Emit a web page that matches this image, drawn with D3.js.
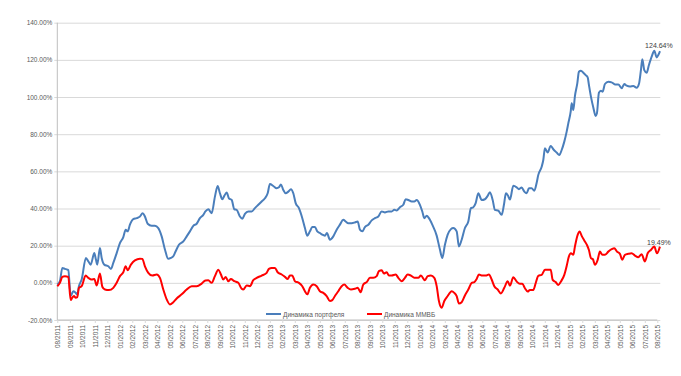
<!DOCTYPE html>
<html>
<head>
<meta charset="utf-8">
<script src="https://cdn.jsdelivr.net/npm/d3@7"></script>
<style>
  body { margin: 0; background: #fff; }
  svg { display: block; font-family: "Liberation Sans", Arial, sans-serif; }
  .axis text { fill: #595959; font-size: 6.5px; }
  .legend text { fill: #595959; font-size: 6.5px; }
</style>
</head>
<body>
<svg id="chart" width="681" height="376"></svg>
<script>
// month labels, one per gridline
var months = ["08/2011","09/2011","10/2011","11/2011","12/2011","01/2012","02/2012","03/2012","04/2012","05/2012",
  "06/2012","07/2012","08/2012","09/2012","10/2012","11/2012","12/2012","01/2013","02/2013","03/2013",
  "04/2013","05/2013","06/2013","07/2013","08/2013","09/2013","10/2013","11/2013","12/2013","01/2014",
  "02/2014","03/2014","04/2014","05/2014","06/2014","07/2014","08/2014","09/2014","10/2014","11/2014",
  "12/2014","01/2015","02/2015","03/2015","04/2015","05/2015","06/2015","07/2015","08/2015"];

var yTicks = [-20, 0, 20, 40, 60, 80, 100, 120, 140];

// [months since 08/2011, %]
var portfolio = [
  [0,-0.9],[0.21,0.9],[0.4,8.0],[0.61,7.5],[0.8,7.1],[0.88,6.8],[1.07,-7.1],[1.28,-4.5],[1.47,-5.4],[1.6,-6.2],
  [1.73,-1.8],[1.95,1.8],[2.29,13.4],[2.48,11.6],[2.67,9.8],[2.96,16.0],[3.09,12.5],[3.2,9.8],[3.41,18.8],[3.55,13.4],
  [3.76,9.8],[4.08,8.9],[4.29,7.5],[4.48,10.7],[4.75,16.0],[5.01,21.4],[5.28,24.6],[5.47,28.6],[5.63,27.7],[5.81,31.3],
  [6.08,34.3],[6.35,34.8],[6.61,35.7],[6.83,37.5],[7.01,35.7],[7.23,31.8],[7.55,30.7],[7.81,30.7],[8.08,29.5],[8.35,25.0],
  [8.61,17.9],[8.88,12.9],[9.09,13.4],[9.28,14.3],[9.47,17.0],[9.73,20.5],[10.08,22.3],[10.35,25.0],[10.61,27.7],[10.88,30.7],
  [11.15,31.8],[11.41,34.8],[11.68,36.6],[11.85,38.4],[12.08,39.6],[12.35,37.5],[12.61,46.4],[12.83,52.1],[13.01,48.2],[13.2,45.0],
  [13.36,46.8],[13.55,48.6],[13.73,45.5],[13.95,44.6],[14.16,39.6],[14.35,39.3],[14.61,35.7],[14.8,34.5],[15.01,37.1],[15.28,38.4],
  [15.55,38.4],[15.81,40.2],[16.08,42.0],[16.35,43.8],[16.61,45.5],[16.83,48.2],[17.01,53.2],[17.28,52.1],[17.55,50.9],[17.73,51.4],
  [17.89,52.9],[18.08,50.0],[18.27,48.2],[18.48,49.1],[18.69,50.4],[18.88,48.2],[19.07,42.9],[19.33,40.2],[19.6,34.8],[19.81,29.5],
  [20.0,25.4],[20.21,27.7],[20.4,30.0],[20.61,30.0],[20.8,27.7],[21.01,26.8],[21.2,25.9],[21.41,25.4],[21.57,26.8],[21.81,23.2],
  [22.08,25.0],[22.35,28.6],[22.61,31.3],[22.88,33.9],[23.07,33.0],[23.28,32.1],[23.55,32.1],[23.81,32.5],[24.03,33.0],[24.21,28.6],
  [24.4,27.7],[24.61,30.0],[24.88,31.3],[25.15,33.6],[25.41,34.8],[25.68,35.7],[25.95,38.4],[26.21,37.9],[26.48,38.4],[26.75,38.4],
  [26.96,39.3],[27.15,38.9],[27.41,40.7],[27.68,42.0],[27.87,45.0],[28.08,44.6],[28.35,43.8],[28.56,43.8],[28.75,44.6],[29.01,42.0],
  [29.2,38.4],[29.36,34.8],[29.55,36.1],[29.73,34.8],[30.0,31.3],[30.35,25.4],[30.61,17.9],[30.8,13.4],[31.01,20.5],[31.23,25.9],
  [31.49,28.9],[31.68,29.5],[31.95,27.7],[32.13,19.6],[32.35,23.2],[32.61,29.5],[32.88,33.0],[33.09,40.2],[33.28,40.7],[33.47,42.9],
  [33.68,48.2],[33.95,44.6],[34.21,45.0],[34.43,46.8],[34.61,48.8],[34.83,44.6],[35.01,39.3],[35.28,38.8],[35.55,36.6],[35.73,42.0],
  [35.89,48.2],[36.05,47.0],[36.21,44.8],[36.48,52.2],[36.75,51.4],[36.93,50.4],[37.15,51.3],[37.36,49.1],[37.55,48.2],[37.73,50.9],
  [37.95,50.9],[38.16,49.6],[38.35,53.9],[38.48,58.1],[38.75,62.5],[38.88,66.1],[39.01,72.4],[39.23,70.1],[39.47,73.7],[39.68,71.9],
  [39.95,70.1],[40.16,68.8],[40.35,71.5],[40.56,76.0],[40.75,81.4],[40.88,85.8],[41.07,92.1],[41.15,96.6],[41.28,93.0],[41.41,100.5],
  [41.6,107.3],[41.73,113.6],[41.89,114.2],[42.08,113.1],[42.27,111.8],[42.43,110.6],[42.53,106.5],[42.69,100.2],[42.88,94.4],[43.07,89.8],
  [43.17,91.2],[43.33,102.3],[43.49,103.4],[43.63,102.9],[43.81,107.0],[44.08,108.2],[44.35,107.9],[44.61,106.8],[44.88,106.8],[45.15,104.7],
  [45.36,107.0],[45.55,106.1],[45.81,105.6],[46.08,105.9],[46.35,105.0],[46.53,107.0],[46.69,114.5],[46.8,120.3],[46.96,114.5],[47.15,113.1],
  [47.33,117.2],[47.55,121.7],[47.76,124.9],[47.95,121.3],[48.08,122.6],[48.21,124.64]
];

var micex = [
  [0,-1.8],[0.21,0.0],[0.4,3.2],[0.61,3.6],[0.88,3.2],[1.07,-9.3],[1.2,-8.0],[1.33,-7.1],[1.47,-8.0],[1.6,-7.7],
  [1.73,-2.7],[1.95,-1.8],[2.27,3.9],[2.48,2.7],[2.75,1.8],[2.96,2.1],[3.15,-1.4],[3.41,5.0],[3.6,-2.1],[3.81,-3.6],
  [4.13,-3.9],[4.48,-2.7],[4.75,0.0],[5.01,3.6],[5.28,5.7],[5.47,8.9],[5.63,6.8],[5.89,9.8],[6.21,12.1],[6.61,13.0],
  [6.8,12.9],[7.01,8.9],[7.28,5.4],[7.6,3.9],[7.95,4.5],[8.21,2.7],[8.48,-3.6],[8.75,-8.9],[9.01,-11.6],[9.28,-10.4],
  [9.55,-8.4],[9.95,-6.2],[10.35,-3.6],[10.75,-1.8],[11.15,-1.8],[11.55,-0.4],[11.85,1.3],[12.08,1.4],[12.35,0.0],[12.61,3.6],
  [12.88,7.1],[13.09,4.5],[13.28,1.8],[13.47,3.2],[13.68,0.9],[13.89,2.1],[14.16,0.9],[14.48,0.0],[14.75,-3.2],[14.88,-3.6],
  [15.15,-1.4],[15.41,-1.8],[15.68,1.4],[15.95,2.7],[16.35,3.9],[16.75,5.4],[16.93,7.5],[17.15,8.0],[17.41,8.0],[17.63,5.7],
  [17.95,4.5],[18.21,3.2],[18.43,2.1],[18.61,3.9],[18.8,3.9],[19.01,0.9],[19.33,0.0],[19.6,-1.8],[19.81,-4.5],[20.0,-6.2],
  [20.21,-2.7],[20.48,-0.9],[20.75,-1.8],[21.01,-4.5],[21.28,-5.4],[21.55,-7.1],[21.81,-9.8],[22.0,-9.3],[22.21,-7.1],[22.48,-4.5],
  [22.75,-1.8],[22.96,-0.9],[23.23,-2.7],[23.49,-3.6],[23.81,-3.2],[24.03,-2.7],[24.27,-5.0],[24.48,-0.9],[24.75,0.4],[25.01,2.7],
  [25.28,2.7],[25.55,3.6],[25.73,6.3],[25.95,6.8],[26.13,5.0],[26.35,5.7],[26.53,3.9],[26.75,3.9],[27.07,4.5],[27.28,2.7],
  [27.55,0.9],[27.81,2.7],[28.03,4.5],[28.29,3.9],[28.56,2.7],[28.88,2.7],[29.09,3.9],[29.41,1.4],[29.63,3.6],[29.89,3.9],
  [30.16,2.7],[30.35,-1.8],[30.53,-9.8],[30.75,-13.4],[30.96,-9.8],[31.23,-7.1],[31.55,-4.5],[31.76,-5.4],[31.95,-7.1],[32.13,-11.1],
  [32.35,-10.4],[32.61,-6.8],[32.88,-3.6],[33.15,0.0],[33.36,0.4],[33.55,2.1],[33.73,4.5],[34.0,3.9],[34.27,3.9],[34.53,4.5],
  [34.75,1.8],[34.96,-1.8],[35.23,-3.6],[35.49,-5.7],[35.76,-2.7],[36.03,0.9],[36.21,-1.5],[36.48,3.0],[36.75,0.7],[37.01,-0.5],
  [37.2,-0.5],[37.41,-2.9],[37.63,-4.7],[37.81,-3.8],[38.08,-3.8],[38.27,-0.2],[38.48,3.8],[38.75,4.3],[39.01,7.0],[39.28,7.0],
  [39.47,7.0],[39.63,1.6],[39.87,0.4],[40.08,-1.1],[40.29,0.7],[40.56,4.3],[40.75,9.1],[40.93,14.2],[41.09,15.9],[41.28,15.1],
  [41.41,19.5],[41.63,25.8],[41.79,27.6],[41.95,25.3],[42.16,22.8],[42.37,20.4],[42.53,17.7],[42.69,13.3],[42.85,12.7],[43.01,9.7],
  [43.23,12.4],[43.41,16.8],[43.6,15.1],[43.81,15.1],[44.08,16.8],[44.35,18.1],[44.56,18.6],[44.77,16.8],[45.01,15.6],[45.2,12.4],
  [45.41,15.1],[45.68,15.6],[45.95,15.9],[46.21,14.7],[46.48,13.8],[46.75,15.4],[47.01,11.5],[47.23,15.9],[47.49,17.7],[47.76,19.5],
  [47.97,15.9],[48.21,19.49]
];

var seriesNames = ["Динамика портфеля", "Динамика ММВБ"];
var seriesColors = ["#4a7ebb", "#ff0000"];

var svg = d3.select("#chart");
var x = d3.scaleLinear().domain([0, months.length - 1]).range([57.3, 657.3]);
var y = d3.scaleLinear().domain([-20, 140]).range([320, 22.7]);

// horizontal gridlines + y labels
var yAxis = d3.axisLeft(y).tickValues(yTicks)
  .tickSize(-(x.range()[1] - x.range()[0] + 3))
  .tickFormat(function(d) { return d.toFixed(2) + "%"; });
svg.append("g").attr("class", "y axis")
  .attr("transform", "translate(" + x.range()[0] + ",0)")
  .call(yAxis)
  .call(function(g) {
    g.select(".domain").remove();
    g.selectAll("line").attr("stroke", "#d9d9d9").attr("x1", -3);
    g.selectAll("text").attr("x", -5);
  });

// vertical gridlines + rotated month labels
var xAxis = d3.axisBottom(x).tickValues(d3.range(months.length))
  .tickSize(-(y(-20) - y(140)))
  .tickFormat(function(d) { return months[d]; });
svg.append("g").attr("class", "x axis")
  .attr("transform", "translate(0," + y(-20) + ")")
  .call(xAxis)
  .call(function(g) {
    g.select(".domain").attr("stroke", "#bfbfbf").attr("d", "M" + x.range()[0] + ",0H" + x.range()[1]);
    g.selectAll("line").attr("stroke", "#d9d9d9").attr("y2", 3);
    g.selectAll("text")
      .attr("transform", "rotate(-90)")
      .attr("text-anchor", "end")
      .attr("x", -5).attr("y", 0).attr("dy", "0.35em");
  });

// left axis line
svg.append("line")
  .attr("x1", x.range()[0]).attr("x2", x.range()[0])
  .attr("y1", y(140)).attr("y2", y(-20))
  .attr("stroke", "#bfbfbf");

var lineFunction = d3.line()
  .x(function(d) { return x(d[0]); })
  .y(function(d) { return y(d[1]); })
  .curve(d3.curveMonotoneX);

var all = [portfolio, micex];
svg.selectAll("path.line").data(all).enter()
  .append("path")
  .attr("class", "line")
  .attr("d", function(d) { return lineFunction(d); })
  .attr("stroke", function(d, i) { return seriesColors[i]; })
  .attr("stroke-width", 2)
  .attr("fill", "none");

// end value labels
svg.selectAll("text.endlabel").data(all).enter()
  .append("text")
  .attr("class", "endlabel")
  .attr("x", function(d) { return x(d[d.length - 1][0]) - 1; })
  .attr("y", function(d, i) { return y(d[d.length - 1][1]) - (i == 0 ? 3 : 1.5); })
  .attr("text-anchor", "middle")
  .attr("fill", "#404040")
  .style("font-size", "7px")
  .text(function(d) { return d[d.length - 1][1].toFixed(2) + "%"; });

// legend
var legendX = [266, 367];
var legend = svg.append("g").attr("class", "legend");
legend.selectAll("line").data(seriesNames).enter()
  .append("line")
  .attr("x1", function(d, i) { return legendX[i]; })
  .attr("x2", function(d, i) { return legendX[i] + 15; })
  .attr("y1", 314).attr("y2", 314)
  .attr("stroke", function(d, i) { return seriesColors[i]; })
  .attr("stroke-width", 2);
legend.selectAll("text").data(seriesNames).enter()
  .append("text")
  .attr("x", function(d, i) { return legendX[i] + 17; })
  .attr("y", 316.5)
  .text(function(d) { return d; });
</script>
</body>
</html>
